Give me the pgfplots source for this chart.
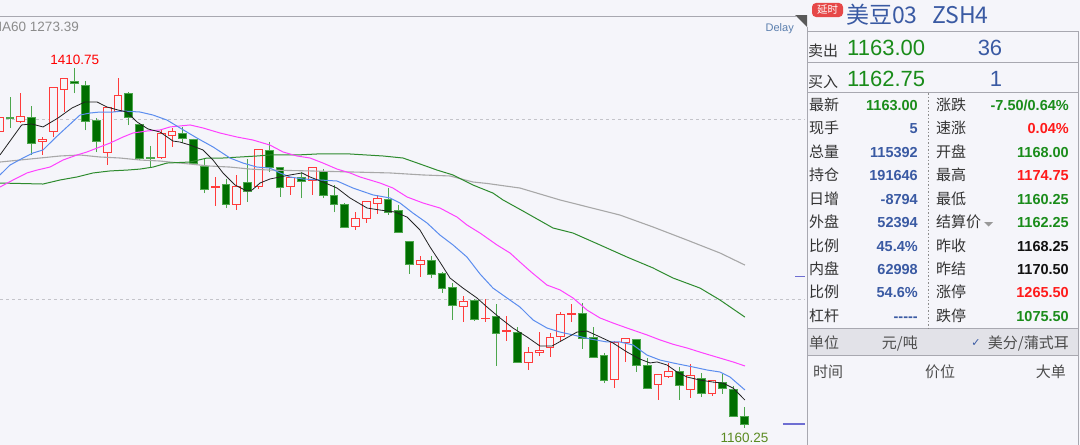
\documentclass[border=0pt]{standalone}
\usepackage{pgfplots}
\pgfplotsset{compat=1.18}
\usepackage{pgfplotstable}
\usepgfplotslibrary{statistics}
\usepackage{fontspec}
\setmainfont{Liberation Sans}
\newfontfamily\cjk{Noto Sans CJK SC}
\newfontfamily\dejavu{DejaVu Sans}

\definecolor{bgc}{HTML}{F5F5FA}
\definecolor{upred}{HTML}{FF3B3B}
\definecolor{dnfill}{HTML}{006E00}
\definecolor{dnedge}{HTML}{4DA64D}
\definecolor{ma5c}{HTML}{222222}
\definecolor{ma10c}{HTML}{5B8DEF}
\definecolor{ma20c}{HTML}{FF40FF}
\definecolor{ma40c}{HTML}{2E8B2E}
\definecolor{ma60c}{HTML}{A8A8A8}
\definecolor{gridc}{HTML}{C4C4CA}
\definecolor{pblue}{HTML}{3A5AA3}
\definecolor{pgreen}{HTML}{1A8C1A}
\definecolor{pred}{HTML}{FF1A1A}
\definecolor{pblack}{HTML}{111111}
\definecolor{labc}{HTML}{333333}
\definecolor{linec}{HTML}{A8A8B0}
\definecolor{bandc}{HTML}{E2E2E8}
\definecolor{markc}{HTML}{6E6ED2}
\definecolor{delayc}{HTML}{5B7FAE}
\definecolor{lowc}{HTML}{5A8A20}
\definecolor{badgec}{HTML}{E64848}

\newcommand\plab[3]{\node[anchor=base west,inner sep=0,text=labc,font=\cjk\fontsize{15bp}{17bp}\selectfont] at (#1,#2) {#3};}
\newcommand\pval[4]{\node[anchor=base east,inner sep=0,text=#4,font=\bfseries\fontsize{14.5bp}{16bp}\selectfont] at (#1,#2) {#3};}

% daily candles: up=1 red (close>open), up=0 green
\pgfplotstableread{
i up o h l c
0 1 1366.25 1380 1364 1376.5
1 0 1376.5 1390.5 1369 1375.25
2 1 1373.75 1393.25 1372.5 1377.25
3 0 1376.5 1384.25 1350.25 1358.5
4 1 1359.25 1362.75 1350.25 1361.25
5 1 1366.25 1397.5 1362.75 1397.5
6 1 1395.5 1403.75 1380 1403.75
7 0 1401 1410.75 1393.25 1400.25
8 0 1398.25 1401.75 1367.5 1373.75
9 0 1374.5 1376 1352.25 1359.25
10 1 1352.25 1383 1343.25 1383
11 1 1380.75 1403.75 1380 1391.25
12 0 1392.75 1394 1371 1376
13 0 1371.75 1372 1347.25 1347.5
14 0 1348.75 1356.5 1341.25 1347.5
15 1 1348.75 1367.5 1347.5 1365.5
16 1 1364 1369 1355.75 1366.25
17 0 1365.5 1369.75 1358.5 1362
18 0 1361.25 1361.5 1344.25 1344.5
19 0 1342.5 1348 1323.75 1326.5
20 1 1327.25 1335 1314.75 1328.5
21 0 1330 1333.5 1313.25 1316
22 1 1315.5 1336.25 1312 1328.5
23 0 1330.75 1347.5 1317.5 1324.5
24 1 1328 1354.5 1326.5 1354.25
25 0 1353 1359.25 1338.25 1341.75
26 0 1341.25 1341.75 1321 1327.25
27 1 1328.5 1334.75 1322.25 1334.25
28 0 1334.25 1338.5 1320.25 1331.5
29 1 1332.75 1341.25 1322.25 1341.25
30 0 1339 1340.5 1320.25 1321.75
31 0 1321.75 1329.25 1310.5 1316
32 0 1316 1316.75 1299.5 1300
33 1 1300.75 1310.5 1298 1305.75
34 1 1306.25 1317.5 1302.75 1317.5
35 1 1316.75 1322.25 1309.25 1320.25
36 0 1319.5 1327.25 1308.5 1310.5
37 0 1311.25 1315.5 1296 1296.5
38 0 1290.25 1290.5 1267.5 1273.75
39 1 1273.75 1280 1265.25 1277
40 0 1277 1280 1264.5 1266.75
41 0 1267.5 1268.75 1254.25 1257
42 0 1258.25 1261.25 1235.5 1245.75
43 1 1245 1252 1234 1248
44 0 1249.25 1250 1234.75 1235.5
45 1 1236.25 1250 1234 1236.75
46 0 1237.5 1246.5 1203.5 1225.75
47 1 1227.25 1238.25 1220.75 1227.75
48 0 1227 1230.5 1205.5 1205.5
49 1 1205.5 1216.5 1200.5 1213
50 1 1212.5 1227 1210.25 1214.5
51 1 1216.5 1226.25 1209.75 1223.5
52 1 1224.25 1241 1220.75 1239.5
53 1 1239.5 1246.5 1234 1240.25
54 0 1240.25 1247.25 1215.25 1222.75
55 0 1223.5 1230.5 1209 1209
56 0 1211 1212.5 1191.5 1193
57 1 1194.25 1220.75 1188 1220
58 1 1219.5 1222.75 1206.25 1222.75
59 0 1221.5 1221.75 1199.25 1203.5
60 0 1203.5 1209 1187.25 1188
61 1 1190.25 1197.75 1180 1197.75
62 1 1195.75 1205.5 1195 1199.25
63 0 1199.25 1202.75 1179.75 1189.5
64 1 1187.25 1204.75 1181 1196.5
65 0 1195 1198.5 1181.75 1184.5
66 1 1184 1193 1182.5 1193
67 0 1192.25 1197.75 1184 1187.5
68 0 1186.75 1189.5 1168 1168
69 0 1168 1174.75 1160.25 1163
}\candles

\pgfplotstableread{
i p
0.07 1350.2
2.08 1371.1
3.01 1371.8
4.06 1369.7
5.44 1375.9
6.74 1382.9
7.94 1387.1
9.06 1387.1
9.98 1383.6
11.0 1381.5
11.83 1380.1
12.76 1373.2
13.78 1368.3
14.89 1366.2
16.09 1359.9
16.74 1359.2
17.67 1357.1
18.87 1353.7
19.8 1346.7
20.72 1337.7
21.83 1329.3
22.94 1325.1
23.41 1325.8
24.15 1330.7
25.07 1333.5
26.0 1334.9
26.93 1336.3
28.04 1337.7
28.78 1334.9
29.98 1331.4
31.28 1327.2
32.48 1320.3
34.06 1313.3
35.26 1311.9
36.65 1310.5
37.76 1307.0
38.96 1298.0
39.89 1286.2
40.81 1275.7
41.74 1264.6
42.94 1257.6
44.24 1250.7
45.17 1244.4
46.37 1236.8
47.57 1229.8
48.87 1223.6
50.07 1217.3
51.19 1217.3
52.2 1221.5
53.5 1227.0
54.43 1227.7
55.63 1223.6
56.83 1219.4
58.13 1213.1
59.33 1208.2
60.26 1205.5
60.91 1206.2
61.83 1204.1
62.76 1199.2
63.69 1195.7
64.89 1193.6
66.09 1192.2
67.02 1191.5
67.95 1188.0
69.05 1179.7
}\maA

\pgfplotstableread{
i p
0.07 1336.3
1.0 1343.2
2.2 1348.1
3.13 1351.6
4.06 1353.7
5.17 1362.0
6.28 1369.7
7.48 1378.0
8.41 1379.4
9.33 1380.1
10.54 1380.1
11.46 1380.8
13.04 1380.1
14.24 1378.0
15.54 1374.5
16.9 1368.3
18.31 1362.0
19.8 1355.8
21.37 1348.1
22.57 1344.6
23.87 1341.8
25.07 1341.1
26.0 1337.7
26.93 1334.9
28.13 1333.5
29.7 1332.8
31.28 1332.1
32.76 1327.2
34.61 1322.4
36.19 1320.3
37.11 1316.8
38.31 1309.8
39.61 1302.9
40.81 1294.5
42.02 1287.6
43.31 1279.2
44.52 1267.4
45.72 1257.6
47.02 1250.7
48.22 1244.4
49.43 1235.4
50.72 1229.8
51.93 1227.0
53.13 1225.0
54.7 1222.2
56.28 1220.1
57.48 1220.1
58.69 1218.0
59.98 1211.0
61.19 1207.5
62.39 1205.5
63.31 1204.1
64.24 1202.7
65.54 1200.6
66.74 1199.2
67.67 1195.7
69.05 1186.7
}\maB

\pgfplotstableread{
i p
0.07 1327.9
1.28 1332.8
2.57 1337.7
3.5 1339.7
4.7 1341.8
5.91 1346.7
7.2 1350.2
8.13 1352.3
9.33 1355.8
10.26 1358.5
11.46 1362.7
12.39 1365.5
13.69 1366.9
14.89 1367.6
15.81 1369.7
16.74 1370.4
17.67 1371.1
18.87 1369.0
20.44 1365.5
22.02 1362.7
23.5 1360.6
25.07 1357.1
26.28 1352.3
27.57 1349.5
28.78 1348.1
29.98 1344.6
31.28 1340.4
32.48 1337.7
33.41 1334.9
35.26 1330.7
36.46 1327.2
37.76 1321.0
39.24 1316.8
40.81 1313.3
42.39 1307.0
43.31 1301.5
44.52 1295.9
46.09 1287.6
47.3 1282.0
48.22 1275.7
49.3 1268.5
50.72 1259.7
51.93 1256.3
53.13 1250.7
54.43 1242.3
55.63 1236.8
56.83 1233.3
58.13 1229.8
59.98 1225.0
61.19 1221.5
62.39 1218.5
63.69 1215.9
65.17 1212.4
66.74 1208.9
67.95 1206.2
69.05 1203.4
}\maC

\pgfplotstableread{
i p
0.07 1330.7
4.06 1330.0
5.63 1332.8
7.2 1334.9
8.69 1337.7
10.26 1339.1
11.83 1339.7
13.04 1340.4
14.24 1341.8
15.54 1344.6
17.67 1345.3
19.24 1348.1
20.72 1348.1
22.3 1348.8
23.87 1349.5
25.07 1350.2
27.57 1350.2
29.43 1350.9
32.48 1350.9
35.54 1349.5
37.39 1348.1
39.24 1343.2
40.54 1339.7
42.02 1336.3
43.87 1329.3
45.72 1323.7
46.65 1318.9
48.5 1311.2
51.28 1299.4
53.13 1295.9
55.63 1287.6
58.13 1279.2
60.54 1271.6
62.39 1264.6
64.89 1257.6
66.74 1249.3
69.05 1237.4
}\maD

\pgfplotstableread{
i p
0.07 1345.3
1.93 1346.7
3.78 1348.1
5.63 1349.5
7.48 1350.2
9.33 1348.8
11.19 1348.1
13.04 1346.7
14.89 1346.0
16.74 1344.6
19.52 1342.5
21.37 1341.8
23.22 1340.4
25.07 1339.7
28.78 1339.1
32.48 1338.4
36.19 1337.7
39.24 1336.3
41.74 1335.6
43.87 1331.4
45.17 1330.4
48.22 1327.2
51.93 1318.9
57.48 1308.4
60.54 1300.1
63.69 1291.0
66.74 1282.0
69.05 1273.6
}\maE

\pgfplotsset{
  candle/.style={line width=1bp, mark=none, boxplot/draw direction=y, boxplot/box extend=0.72, boxplot/whisker extend=0},
  upc/.style={candle, draw=upred, fill=bgc},
  dnc/.style={candle, draw=dnedge, fill=dnfill},
}

\begin{document}
\begin{tikzpicture}
\useasboundingbox (0,0) rectangle (1080bp,-445bp);
\fill[bgc] (0,0) rectangle (1080bp,-445bp);
\begin{axis}[
  at={(0,0)}, anchor=north west,
  scale only axis, width=805bp, height=445bp,
  xmin=0.074, xmax=74.61, ymin=1148.41, ymax=1458.04,
  axis line style={draw=none},
  xtick=\empty, ytick={1250,1375}, yticklabels={},
  tick style={draw=none}, major tick length=0pt,
  ymajorgrids, major grid style={gridc, line width=0.8bp, dash pattern=on 3bp off 3bp},
  clip=true,
]
\pgfplotsinvokeforeach{0,...,69}{%
  \pgfplotstablegetelem{#1}{o}\of\candles\edef\cO{\pgfplotsretval}%
  \pgfplotstablegetelem{#1}{h}\of\candles\edef\cH{\pgfplotsretval}%
  \pgfplotstablegetelem{#1}{l}\of\candles\edef\cL{\pgfplotsretval}%
  \pgfplotstablegetelem{#1}{c}\of\candles\edef\cC{\pgfplotsretval}%
  \pgfplotstablegetelem{#1}{up}\of\candles
  \ifnum\pgfplotsretval=1
    \edef\tmp{\noexpand\addplot[upc, boxplot prepared={lower whisker=\cL, upper whisker=\cH, lower quartile=\cO, upper quartile=\cC, median=\cO}, boxplot/draw position=#1] coordinates {};}%
  \else
    \edef\tmp{\noexpand\addplot[dnc, boxplot prepared={lower whisker=\cL, upper whisker=\cH, lower quartile=\cC, upper quartile=\cO, median=\cC}, boxplot/draw position=#1] coordinates {};}%
  \fi
  \tmp
}
\addplot[ma60c, line width=1.1bp, no marks] table[x=i,y=p] {\maE};
\addplot[ma40c, line width=1bp, no marks] table[x=i,y=p] {\maD};
\addplot[ma20c, line width=1bp, no marks] table[x=i,y=p] {\maC};
\addplot[ma10c, line width=1bp, no marks] table[x=i,y=p] {\maB};
\addplot[ma5c, line width=0.8bp, no marks] table[x=i,y=p] {\maA};
\addplot[markc, line width=1.5bp, no marks] coordinates {(73.69,1265.5) (74.61,1265.5)};
\addplot[markc, line width=1.5bp, no marks] coordinates {(72.57,1163) (74.61,1163)};
\node[anchor=base, inner sep=0, yshift=3bp, text=red, font=\fontsize{13.5bp}{15bp}\selectfont] at (axis cs:7,1410.75) {1410.75};
\node[anchor=base, inner sep=0, yshift=-14.5bp, text=lowc, font=\fontsize{13.5bp}{15bp}\selectfont] at (axis cs:69,1160.25) {1160.25};
\end{axis}

\begin{scope}[x=1bp,y=-1bp]
% chart header
\draw[linec, line width=0.8bp] (0,16) -- (796,16);
\fill[black!65] (795,15) -- (807,15) -- (807,27) -- cycle;
\node[anchor=base east, inner sep=0, text=black!45, font=\fontsize{13.5bp}{15bp}\selectfont] at (79,31.5) {MA60 1273.39};
\node[anchor=base east, inner sep=0, text=delayc, font=\fontsize{11bp}{13bp}\selectfont] at (794,31) {Delay};
% panel frame
\fill[bandc] (807,328) rectangle (1078,355);
\draw[linec, line width=0.8bp] (807,27) -- (807,445);
\draw[linec, line width=0.8bp] (807,31) -- (1078,31) -- (1078,445);
\draw[linec, line width=0.8bp] (807,62) -- (1078,62);
\draw[linec, line width=0.8bp] (807,92) -- (1078,92);
\draw[linec, line width=0.8bp] (807,328) -- (1078,328);
\draw[linec, line width=0.8bp] (807,355) -- (1078,355);
\draw[black!45, line width=0.8bp, dash pattern=on 1.5bp off 2bp] (928,93) -- (928,328);
% title row
\node[fill=badgec, rounded corners=4bp, minimum width=31bp, minimum height=14bp, inner sep=0, text=white, font=\cjk\fontsize{10.5bp}{12bp}\selectfont] at (827.5,10) {延时};
\node[anchor=base west, inner sep=0, text=pblue, font=\cjk\fontsize{23bp}{25bp}\selectfont] at (846,23.5) {美豆03};
\node[anchor=base west, inner sep=0, text=pblue, font=\cjk\fontsize{23bp}{25bp}\selectfont] at (932,23.5) {ZSH4};
% bid / ask
\plab{808}{56}{卖出}
\node[anchor=base west, inner sep=0, text=pgreen, font=\fontsize{22bp}{24bp}\selectfont] at (847,55) {1163.00};
\node[anchor=base, inner sep=0, text=pblue, font=\fontsize{22bp}{24bp}\selectfont] at (990,55) {36};
\plab{808}{87}{买入}
\node[anchor=base west, inner sep=0, text=pgreen, font=\fontsize{22bp}{24bp}\selectfont] at (847,86) {1162.75};
\node[anchor=base, inner sep=0, text=pblue, font=\fontsize{22bp}{24bp}\selectfont] at (996,86) {1};
% left column
\plab{809}{110}{最新}   \pval{918}{110}{1163.00}{pgreen}
\plab{809}{133.5}{现手} \pval{918}{133.5}{5}{pblue}
\plab{809}{157}{总量}   \pval{918}{157}{115392}{pblue}
\plab{809}{180.5}{持仓} \pval{918}{180.5}{191646}{pblue}
\plab{809}{204}{日增}   \pval{918}{204}{-8794}{pblue}
\plab{809}{227.5}{外盘} \pval{918}{227.5}{52394}{pblue}
\plab{809}{251}{比例}   \pval{918}{251}{45.4\%}{pblue}
\plab{809}{274}{内盘}   \pval{918}{274}{62998}{pblue}
\plab{809}{297.5}{比例} \pval{918}{297.5}{54.6\%}{pblue}
\plab{809}{321}{杠杆}   \pval{918}{321}{{-}{-}{-}{-}{-}}{pblue}
% right column
\plab{936}{110}{涨跌}   \pval{1069}{110}{-7.50/0.64\%}{pgreen}
\plab{936}{133.5}{速涨} \pval{1069}{133.5}{0.04\%}{pred}
\plab{936}{157}{开盘}   \pval{1069}{157}{1168.00}{pgreen}
\plab{936}{180.5}{最高} \pval{1069}{180.5}{1174.75}{pred}
\plab{936}{204}{最低}   \pval{1069}{204}{1160.25}{pgreen}
\plab{936}{227.5}{结算价} \pval{1069}{227.5}{1162.25}{pgreen}
\fill[black!40] (984,222) -- (993,222) -- (988.5,226.5) -- cycle;
\plab{936}{251}{昨收}   \pval{1069}{251}{1168.25}{pblack}
\plab{936}{274}{昨结}   \pval{1069}{274}{1170.50}{pblack}
\plab{936}{297.5}{涨停} \pval{1069}{297.5}{1265.50}{pred}
\plab{936}{321}{跌停}   \pval{1069}{321}{1075.50}{pgreen}
% unit row
\node[anchor=base west, inner sep=0, text=black!70, font=\cjk\fontsize{15bp}{17bp}\selectfont] at (809,348) {单位};
\node[anchor=base east, inner sep=0, text=black!70, font=\cjk\fontsize{15bp}{17bp}\selectfont] at (918,348) {元/吨};
\node[anchor=base, inner sep=0, text=pblue, font=\dejavu\fontsize{11bp}{13bp}\selectfont] at (976,346) {✓};
\node[anchor=base east, inner sep=0, text=black!70, font=\cjk\fontsize{15bp}{17bp}\selectfont] at (1069,348) {美分/蒲式耳};
% list header
\node[anchor=base west, inner sep=0, text=black!70, font=\cjk\fontsize{15bp}{17bp}\selectfont] at (813,377) {时间};
\node[anchor=base west, inner sep=0, text=black!70, font=\cjk\fontsize{15bp}{17bp}\selectfont] at (925,377) {价位};
\node[anchor=base east, inner sep=0, text=black!70, font=\cjk\fontsize{15bp}{17bp}\selectfont] at (1066,377) {大单};
\end{scope}
\end{tikzpicture}
\end{document}
